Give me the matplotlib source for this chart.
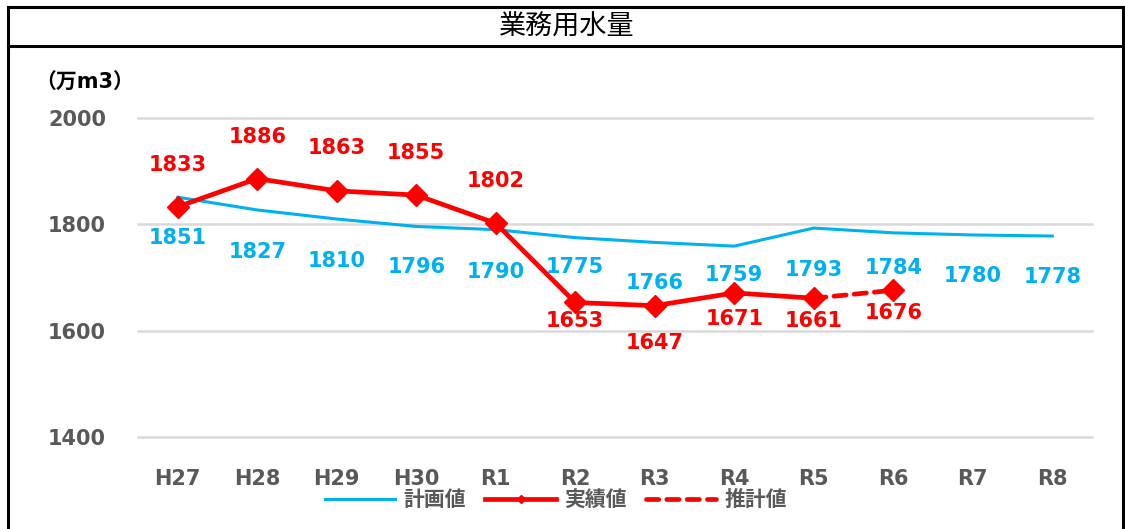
import matplotlib
matplotlib.use("Agg")
import matplotlib.pyplot as plt
from matplotlib.lines import Line2D

plt.rcParams['font.family'] = ['DejaVu Sans', 'Noto Sans CJK JP']
plt.rcParams['axes.unicode_minus'] = False

# データ
years = ["H27", "H28", "H29", "H30", "R1", "R2", "R3", "R4", "R5", "R6", "R7", "R8"]
plan = [1851, 1827, 1810, 1796, 1790, 1775, 1766, 1759, 1793, 1784, 1780, 1778]
actual = [1833, 1886, 1863, 1855, 1802, 1653, 1647, 1671, 1661]
estimate_years = ["R5", "R6"]
estimate = [1661, 1676]

# ラベル位置 (pixel offset, 上が正)
plan_dy = [-41, -42, -42, -41, -42, -29, -41, -29, -42, -35, -41, -41]
actual_dy = [42, 42, 43, 42, 42, -19, -37, -26, -23]
estimate_dy = [-23]

BLUE = "#00B0F0"
RED = "#FF0000"
GREY = "#595959"
FS = 15

fig = plt.figure(figsize=(11.25, 5.29), dpi=100)
W, H = 1125, 529
ax = fig.add_axes([138 / W, 1 - 437 / H, (1092 - 138) / W, (437 - 118) / H])

x = list(range(len(years)))
xa = x[:len(actual)]
xe = [years.index(y) for y in estimate_years]

ax.plot(x, plan, color=BLUE, lw=2.2, zorder=3)
ax.plot(xe, estimate, color=RED, lw=3.4, ls=(0, (2.6, 1.7)),
        dash_capstyle='round', zorder=4)
ax.plot(xe[1:], estimate[1:], 'D', color=RED, ms=11, zorder=5)
ax.plot(xa, actual, color=RED, lw=3.4, marker='D', ms=11, zorder=5)

for i, v in enumerate(plan):
    ax.annotate(str(v), (x[i], v), xytext=(0, plan_dy[i]), textcoords='offset pixels',
                ha='center', va='center', color=BLUE, fontsize=FS, fontweight='bold')
for i, v in enumerate(actual):
    ax.annotate(str(v), (xa[i], v), xytext=(0, actual_dy[i]), textcoords='offset pixels',
                ha='center', va='center', color=RED, fontsize=FS, fontweight='bold')
for i, v in enumerate(estimate[1:]):
    ax.annotate(str(v), (xe[i + 1], v), xytext=(0, estimate_dy[i]), textcoords='offset pixels',
                ha='center', va='center', color=RED, fontsize=FS, fontweight='bold')

ax.set_xlim(-0.5, len(years) - 0.5)
ax.set_ylim(1400, 2000)
ax.set_yticks([1400, 1600, 1800, 2000])
ax.set_xticks(x)
ax.set_xticklabels(years)
ax.grid(axis='y', color='#D9D9D9', lw=1.8)
for gl in ax.get_ygridlines():
    gl.set_clip_on(False)
ax.set_axisbelow(True)
for s in ax.spines.values():
    s.set_visible(False)
ax.tick_params(length=0, labelsize=FS, labelcolor=GREY)
ax.tick_params(axis='x', pad=23)
ax.tick_params(axis='y', pad=23)
for t in ax.get_xticklabels() + ax.get_yticklabels():
    t.set_fontweight('bold')

# 単位
fig.text(85 / W, 1 - 83 / H, "（万m3）", ha='center', va='center',
         fontsize=15, fontweight='bold', color='black')

# タイトルと枠
fig.text(567 / W, 1 - 27 / H, "業務用水量", ha='center', va='center', fontsize=19.5,
         family=['Noto Sans CJK JP'], color='black')
lw = 2.2
fig.add_artist(Line2D([8 / W, 8 / W], [-0.01, 1 - 7 / H], color='black', lw=lw))
fig.add_artist(Line2D([1123 / W, 1123 / W], [-0.01, 1 - 7 / H], color='black', lw=lw))
fig.add_artist(Line2D([8 / W, 1123 / W], [1 - 7 / H, 1 - 7 / H], color='black', lw=lw))
fig.add_artist(Line2D([8 / W, 1123 / W], [1 - 46 / H, 1 - 46 / H], color='black', lw=lw))

# 凡例
handles = [
    Line2D([], [], color=BLUE, lw=2.2),
    Line2D([], [], color=RED, lw=3.4, marker='D', ms=4),
    Line2D([], [], color=RED, lw=3.4, ls=(0, (2.6, 1.7)), dash_capstyle='round'),
]
leg = fig.legend(handles, ["計画値", "実績値", "推計値"], loc='center',
                 bbox_to_anchor=(556 / W, 1 - 500 / H), ncol=3, frameon=False,
                 handlelength=3.4, handletextpad=0.4, columnspacing=0.9,
                 prop={'size': 15, 'weight': 'bold'})
for t in leg.get_texts():
    t.set_color(GREY)

fig.savefig("out.png", dpi=100)
